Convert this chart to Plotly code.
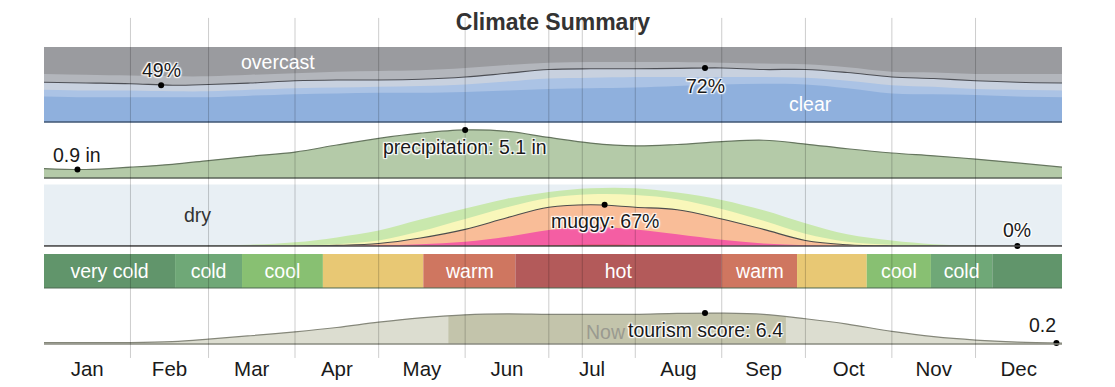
import plotly.graph_objects as go
import numpy as np

# ---------------- data ----------------
days = [0, 15, 31, 46, 59, 74, 90, 105, 120, 135, 151, 166, 181,
        196, 212, 227, 243, 258, 273, 288, 304, 319, 334, 349, 365]

month_names = ["Jan", "Feb", "Mar", "Apr", "May", "Jun",
               "Jul", "Aug", "Sep", "Oct", "Nov", "Dec"]
month_starts = [0, 31, 59, 90, 120, 151, 181, 212, 243, 273, 304, 334, 365]
now_day = 193

# cloud cover, cumulative % from the bottom
cloud_clear = [34, 33, 33, 33, 33, 35, 37, 38, 39, 39, 40, 42, 44,
               45, 46, 48, 50, 51, 50, 45, 38, 37, 36, 34, 33]
cloud_mostly_clear = [43, 42, 42, 41, 41, 43, 45, 46, 47, 48, 50, 54, 58,
                      59, 60, 60, 60, 60, 59, 55, 49, 47, 44, 43, 42]
cloud_partly_cloudy = [53, 52, 51, 49, 50, 52, 55, 56, 56, 57, 60, 65, 70,
                       71, 71, 71.5, 72, 70, 70, 66, 60, 58, 55, 53, 52]
cloud_mostly_cloudy = [64, 63, 62, 61, 61, 63, 65, 67, 68, 69, 72, 76, 79,
                       80, 80, 80, 79, 78, 77, 73, 67, 66, 64, 64, 64]

# precipitation (inches)
precip = [1.0, 0.9, 1.15, 1.45, 1.85, 2.3, 2.75, 3.5, 4.2, 4.75, 5.1, 4.95, 4.3,
          3.7, 3.4, 3.55, 3.85, 4.0, 3.6, 3.1, 2.65, 2.35, 2.0, 1.6, 1.15]

# humidity comfort levels, cumulative % from the bottom
hum_comfortable = [0, 0, 0, 0, 0.5, 2, 6, 14, 25, 43, 61, 77, 88,
                   94, 94, 87, 75, 58, 37, 19, 9, 3, 0.5, 0, 0]
hum_humid = [0, 0, 0, 0, 0, 0, 1, 3, 9, 24, 44, 63, 78,
             84, 83, 76, 60, 41, 20, 7, 2, 0, 0, 0, 0]
hum_muggy = [0, 0, 0, 0, 0, 0, 0, 1, 4, 13, 27, 46, 63,
             67, 63, 59, 44, 27, 9, 2, 0, 0, 0, 0, 0]
hum_oppressive = [0, 0, 0, 0, 0, 0, 0, 0, 1, 3, 7, 15, 26,
                  31, 27, 19, 10, 4, 1, 0, 0, 0, 0, 0, 0]
hum_miserable = [0, 0, 0, 0, 0, 0, 0, 0, 0, 0, 0, 0.5, 1,
                 2, 1.5, 0.5, 0, 0, 0, 0, 0, 0, 0, 0, 0]

# temperature categories (day boundaries)
temp_bounds = [0, 47, 71, 100, 136, 169, 243, 270, 295, 318, 340, 365]
temp_cats = ["very cold", "cold", "cool", "comfortable", "warm", "hot",
             "warm", "comfortable", "cool", "cold", "very cold"]
temp_labels = ["very cold", "cold", "cool", "", "warm", "hot",
               "warm", "", "cool", "cold", ""]

# tourism score
tourism = [0.3, 0.3, 0.3, 0.5, 1.0, 1.7, 2.5, 3.4, 4.5, 5.4, 6.0, 6.2, 6.1,
           6.1, 6.1, 6.3, 6.35, 6.1, 5.2, 4.1, 2.6, 1.5, 0.8, 0.4, 0.2]
best_start, best_end = 145, 266

# highlighted points
cloud_min = (42, 49)
cloud_max = (237, 72)
precip_min = (12, 0.9)
precip_max = (151, 5.1)
muggy_max = (201, 67)
muggy_min = (349, 0)
tour_max = (237, 6.4)
tour_min = (363, 0.2)

# ---------------- styles ----------------
temp_colors = {
    "very cold": "#61956b", "cold": "#6fa877", "cool": "#88c072",
    "comfortable": "#e8c874", "warm": "#cf7660", "hot": "#b35a5a",
}
FONT = "Liberation Sans, Arial, Helvetica, sans-serif"
HALO = ("1px 1px 1px #fff, -1px -1px 1px #fff, 1px -1px 1px #fff, "
        "-1px 1px 1px #fff, 0 0 3px #fff")
LS = 19.5  # label font size

fig = go.Figure()

# cloud band (yaxis5)
fig.add_trace(go.Scatter(x=days, y=[100] * len(days), fill="tozeroy", mode="none",
                         fillcolor="#9a9b9f", yaxis="y5"))
for vals, col in [(cloud_mostly_cloudy, "#b3b6bc"), (cloud_partly_cloudy, "#c8d1df"),
                  (cloud_mostly_clear, "#abc3e5"), (cloud_clear, "#8fb0dd")]:
    fig.add_trace(go.Scatter(x=days, y=vals, fill="tozeroy", mode="none",
                             fillcolor=col, line_shape="spline", yaxis="y5"))
fig.add_trace(go.Scatter(x=days, y=cloud_partly_cloudy, mode="lines", line_shape="spline",
                         line=dict(color="#4d4f55", width=1.2), yaxis="y5"))

# precipitation (yaxis4)
fig.add_trace(go.Scatter(x=days, y=precip, fill="tozeroy", mode="lines", line_shape="spline",
                         fillcolor="#b4caa8", line=dict(color="#66765f", width=1.2),
                         yaxis="y4"))

# humidity (yaxis3)
for vals, col in [(hum_comfortable, "#c9e8ad"), (hum_humid, "#f9f7ba"),
                  (hum_muggy, "#f9bd98"), (hum_oppressive, "#f45ea3"),
                  (hum_miserable, "#d2413c")]:
    fig.add_trace(go.Scatter(x=days, y=vals, fill="tozeroy", mode="none",
                             fillcolor=col, line_shape="spline", yaxis="y3"))
fig.add_trace(go.Scatter(x=days, y=hum_muggy, mode="lines", line_shape="spline",
                         line=dict(color="#4d4d4d", width=1.1), yaxis="y3"))

# temperature (yaxis2)
starts = temp_bounds[:-1]
widths = [b - a for a, b in zip(temp_bounds[:-1], temp_bounds[1:])]
fig.add_trace(go.Bar(x=widths, base=starts, y=[0] * len(widths), orientation="h",
                     width=1, marker=dict(color=[temp_colors[c] for c in temp_cats],
                                          line=dict(width=0)),
                     text=temp_labels, textposition="inside", insidetextanchor="middle",
                     textangle=0, constraintext="none",
                     textfont=dict(color="white", size=LS, family=FONT),
                     yaxis="y2"))

# tourism (yaxis)
fig.add_trace(go.Scatter(x=days, y=tourism, fill="tozeroy", mode="none",
                         fillcolor="#dcddd0", line_shape="spline", yaxis="y"))
bt_x = [best_start] + [d for d in days if best_start < d < best_end] + [best_end]
bt_y = list(np.interp(bt_x, days, tourism))
fig.add_trace(go.Scatter(x=bt_x, y=bt_y, fill="tozeroy", mode="none",
                         fillcolor="#c3c4ab", line_shape="spline", yaxis="y"))
fig.add_trace(go.Scatter(x=days, y=tourism, mode="lines", line_shape="spline",
                         line=dict(color="#85877a", width=1.2), yaxis="y"))

# highlighted dots
for (px, py), ax in [(cloud_min, "y5"), (cloud_max, "y5"), (precip_min, "y4"),
                     (precip_max, "y4"), (muggy_max, "y3"), (muggy_min, "y3"),
                     (tour_max, "y"), (tour_min, "y")]:
    fig.add_trace(go.Scatter(x=[px], y=[py], mode="markers", cliponaxis=False,
                             marker=dict(color="black", size=6), yaxis=ax))

# ---------------- annotations ----------------
def lab(x, y, text, yref, yshift, size=LS, color="#1a1a1a", halo=True, **kw):
    f = dict(size=size, color=color, family=FONT)
    if halo:
        f["shadow"] = HALO
    fig.add_annotation(x=x, y=y, xref="x", yref=yref, text=text, showarrow=False,
                       yshift=yshift, font=f, **kw)

lab(cloud_min[0], cloud_min[1], f"{cloud_min[1]}%", "y5", 15)
lab(cloud_max[0], cloud_max[1], f"{cloud_max[1]}%", "y5", -18)
lab(precip_min[0], precip_min[1], f"{precip_min[1]} in", "y4", 14)
lab(precip_max[0], precip_max[1], f"precipitation: {precip_max[1]} in", "y4", -17)
lab(muggy_max[0], muggy_max[1], f"muggy: {muggy_max[1]}%", "y3", -16)
lab(muggy_min[0], muggy_min[1], f"{muggy_min[1]}%", "y3", 16)
lab(tour_max[0], tour_max[1], f"tourism score: {tour_max[1]}", "y", -17)
lab(tour_min[0], tour_min[1], f"{tour_min[1]}", "y", 18, xanchor="right", xshift=2)
lab(84, 80, "overcast", "y5", 0, color="white", halo=False)
lab(275, 24, "clear", "y5", 0, color="white", halo=False)
lab(55, 50, "dry", "y3", 0, color="#333", halo=False)
lab(now_day, 2.4, "Now", "y", 0, size=LS, color="#9a9a90", halo=False,
    xanchor="left", xshift=2)

# ---------------- shapes ----------------
shapes = []
# humidity background
shapes.append(dict(type="rect", xref="x", yref="y3 domain", x0=0, x1=365, y0=0, y1=1,
                   fillcolor="#e8eff4", line=dict(width=0), layer="below"))
# baselines
for yr, col, w in [("y5 domain", "#3f5673", 1.5), ("y4 domain", "#5b6558", 1.5),
                   ("y3 domain", "#4d4d4d", 1.3), ("y2 domain", "#4f6a52", 1),
                   ("y domain", "#8a8b80", 1.5)]:
    shapes.append(dict(type="line", xref="x", yref=yr, x0=0, x1=365, y0=0, y1=0,
                       line=dict(color=col, width=w), layer="above"))
# month separators + now line
for d in month_starts[1:-1] + [now_day]:
    shapes.append(dict(type="line", xref="x", yref="paper", x0=d, x1=d,
                       y0=-0.047, y1=1.098, line=dict(color="rgba(0,0,0,0.2)", width=1),
                       layer="above"))

month_mid = [(a + b) / 2 for a, b in zip(month_starts[:-1], month_starts[1:])]

# the page body has an 8px margin, so the figure is sized to the remaining space
W, H = 1107, 379
hidden = dict(visible=False, fixedrange=True)
fig.update_layout(
    width=W, height=H, autosize=False,
    margin=dict(l=36, r=53, t=39, b=43, autoexpand=False),
    paper_bgcolor="white", plot_bgcolor="white",
    showlegend=False, barmode="overlay", hovermode=False,
    font=dict(family=FONT, color="#222"),
    title=dict(text="Climate Summary", x=0.5, xref="paper", xanchor="center",
               y=1 - 14 / H, yanchor="middle",
               font=dict(size=23, color="#333", family=FONT, weight="bold")),
    shapes=shapes,
    xaxis=dict(range=[0, 365], domain=[0, 1], anchor="y", showgrid=False,
               zeroline=False, showline=False, ticks="", tickvals=month_mid,
               ticktext=month_names, tickfont=dict(size=20.5, color="#1a1a1a"),
               ticklabelstandoff=10, automargin=False, fixedrange=True),
    yaxis=dict(domain=[0, 0.17], range=[0, 10.4], anchor="x", **hidden),
    yaxis2=dict(domain=[0.1886, 0.303], range=[-0.5, 0.5], anchor="x", **hidden),
    yaxis3=dict(domain=[0.33, 0.537], range=[0, 100], anchor="x", **hidden),
    yaxis4=dict(domain=[0.559, 0.7475], range=[0, 5.94], anchor="x", **hidden),
    yaxis5=dict(domain=[0.7475, 1.0], range=[0, 100], anchor="x", **hidden),
)

fig.write_html("out.html")
